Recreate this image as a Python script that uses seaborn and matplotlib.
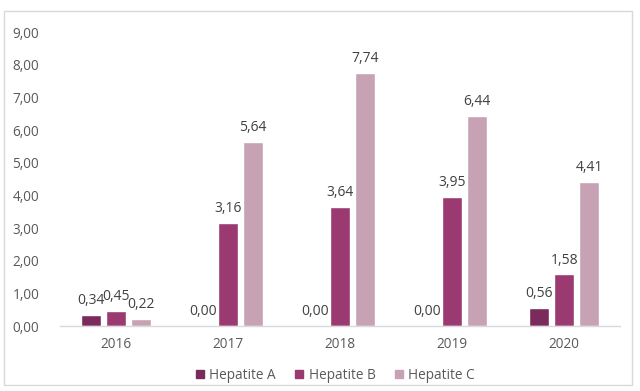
import matplotlib
matplotlib.use("Agg")
import matplotlib.pyplot as plt
from matplotlib.patches import Rectangle
from matplotlib.lines import Line2D
import seaborn as sns
import pandas as pd

years = ["2016", "2017", "2018", "2019", "2020"]
series = ["Hepatite A", "Hepatite B", "Hepatite C"]
hep_a = [0.34, 0.00, 0.00, 0.00, 0.56]
hep_b = [0.45, 3.16, 3.64, 3.95, 1.58]
hep_c = [0.22, 5.64, 7.74, 6.44, 4.41]
colors = ["#7B2A5C", "#9B3A70", "#C6A2B4"]

df = pd.DataFrame({
    "ano": years * 3,
    "serie": [s for s in series for _ in years],
    "valor": hep_a + hep_b + hep_c,
})

sns.set_theme(style="white")
plt.rcParams["font.family"] = ["Open Sans", "DejaVu Sans"]

fig = plt.figure(figsize=(6.4, 3.91), dpi=100)
ax = fig.add_axes([0.094, 0.166, 0.875, 0.752])

sns.barplot(data=df, x="ano", y="valor", hue="serie", hue_order=series,
            palette=colors, width=0.67, gap=0.2, saturation=1,
            errorbar=None, ax=ax, legend=False)

for cont in ax.containers:
    ax.bar_label(cont, labels=[f"{v:.2f}".replace(".", ",") for v in cont.datavalues],
                 padding=5, fontsize=10, color="#404040")

ax.set_ylim(0, 9)
ax.set_xlim(-0.5, 4.5)
ax.set_yticks(range(0, 10))
ax.set_yticklabels([f"{v:.2f}".replace(".", ",") for v in range(0, 10)])
ax.set_xlabel("")
ax.set_ylabel("")
ax.tick_params(axis="both", length=0, labelsize=9.8, colors="#595959")
ax.tick_params(axis="y", pad=15)
ax.tick_params(axis="x", pad=8)
for side in ["left", "right", "top"]:
    ax.spines[side].set_visible(False)
ax.spines["bottom"].set_color("#D9D9D9")
ax.spines["bottom"].set_linewidth(1)

handles = [Line2D([], [], marker="s", linestyle="none", markersize=6,
                  markerfacecolor=c, markeredgecolor=c) for c in colors]
ax.legend(handles, series, loc="center", bbox_to_anchor=(0.49, -0.167), ncol=3,
          frameon=False, fontsize=9.8, labelcolor="#595959", handlelength=0.8,
          columnspacing=1.3, handletextpad=0.3)

fig.patches.append(Rectangle((0.006, 0.015), 0.982, 0.957, transform=fig.transFigure,
                             fill=False, edgecolor="#D9D9D9", linewidth=1))

fig.savefig("out.png", dpi=100)
